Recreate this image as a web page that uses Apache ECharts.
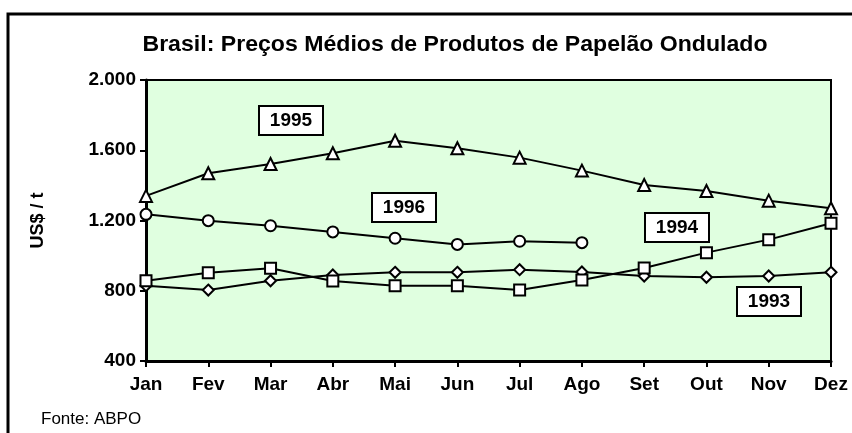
<!DOCTYPE html>
<html>
<head>
  <meta charset="utf-8">
  <title>Brasil: Preços Médios de Produtos de Papelão Ondulado</title>
  <script src="https://cdn.jsdelivr.net/npm/echarts@6/dist/echarts.min.js"></script>
  <style>
    html, body { margin: 0; padding: 0; background: #fff; }
    #chart { width: 852px; height: 433px; }
  </style>
</head>
<body>
<div id="chart"></div>
<script type="text/javascript">
// meses
const months = ['Jan', 'Fev', 'Mar', 'Abr', 'Mai', 'Jun', 'Jul', 'Ago', 'Set', 'Out', 'Nov', 'Dez'];

// preços médios (US$ / t)
const p1993 = [829, 804, 857, 890, 905, 905, 920, 907, 884, 877, 884, 905];
const p1994 = [857, 903, 928, 856, 829, 829, 804, 861, 930, 1017, 1091, 1184];
const p1995 = [1340, 1469, 1522, 1583, 1654, 1611, 1558, 1484, 1402, 1368, 1313, 1270];
const p1996 = [1235, 1199, 1170, 1135, 1099, 1064, 1082, 1074];

const yTicks = [400, 800, 1200, 1600, 2000];

const FONT = 'Liberation Sans, Arial, sans-serif';

function serie(name, data, symbol, size) {
  return {
    name: name,
    type: 'line',
    data: data,
    symbol: symbol,
    symbolSize: size,
    showAllSymbol: true,
    clip: false,
    lineStyle: { color: '#000', width: 2 },
    itemStyle: { color: '#fff', borderColor: '#000', borderWidth: 2 },
    emphasis: { disabled: true },
    z: 3
  };
}

function yearBox(text, x, y) {
  return {
    type: 'group',
    x: x, y: y,
    children: [
      { type: 'rect', shape: { x: 0, y: 0, width: 64, height: 29 },
        style: { fill: '#fff', stroke: '#000', lineWidth: 2 } },
      { type: 'text', x: 32, y: 15,
        style: { text: text, fill: '#000', font: 'bold 19px ' + FONT, textAlign: 'center', textVerticalAlign: 'middle' } }
    ],
    z: 10
  };
}

var option = {
  animation: false,
  backgroundColor: '#fff',
  grid: { left: 146, right: 21, top: 80, bottom: 72, show: true, backgroundColor: '#e0ffe0', borderColor: '#000', borderWidth: 2 },
  xAxis: {
    type: 'category',
    data: months,
    boundaryGap: false,
    axisLine: { lineStyle: { color: '#000', width: 3 } },
    axisTick: { show: true, alignWithLabel: true, length: 6, lineStyle: { color: '#000', width: 2 } },
    axisLabel: { color: '#000', fontFamily: FONT, fontWeight: 'bold', fontSize: 19, margin: 14 },
    splitLine: { show: false }
  },
  yAxis: {
    type: 'value',
    min: yTicks[0],
    max: yTicks[yTicks.length - 1],
    interval: 400,
    name: 'US$ / t',
    nameLocation: 'middle',
    nameGap: 99,
    nameTextStyle: { color: '#000', fontFamily: FONT, fontWeight: 'bold', fontSize: 18 },
    axisLine: { show: true, lineStyle: { color: '#000', width: 3 } },
    axisTick: { show: true, length: 6, lineStyle: { color: '#000', width: 2 } },
    axisLabel: {
      color: '#000', fontFamily: FONT, fontWeight: 'bold', fontSize: 19, margin: 10,
      formatter: v => v >= 1000 ? Math.floor(v / 1000) + '.' + String(v % 1000).padStart(3, '0') : String(v)
    },
    splitLine: { show: false }
  },
  series: [
    serie('1993', p1993, 'diamond', 11),
    serie('1994', p1994, 'rect', 11),
    serie('1995', p1995, 'triangle', 12),
    serie('1996', p1996, 'circle', 11)
  ],
  graphic: [
    { type: 'rect', shape: { x: 8, y: 14, width: 860, height: 440 },
      style: { fill: 'none', stroke: '#000', lineWidth: 3 }, z: 0, silent: true },
    { type: 'text', x: 455, y: 45, scaleX: 1.05,
      style: { text: 'Brasil: Preços Médios de Produtos de Papelão Ondulado', fill: '#000',
               font: 'bold 22px ' + FONT, textAlign: 'center', textVerticalAlign: 'middle' } },
    { type: 'text', x: 41, y: 419,
      style: { text: 'Fonte: ABPO', fill: '#000', font: '17px ' + FONT, textAlign: 'left', textVerticalAlign: 'middle' } },
    yearBox('1995', 259, 106),
    yearBox('1996', 372, 193),
    yearBox('1994', 645, 213),
    yearBox('1993', 737, 287)
  ]
};

echarts.init(document.getElementById('chart')).setOption(option);
</script>
</body>
</html>
